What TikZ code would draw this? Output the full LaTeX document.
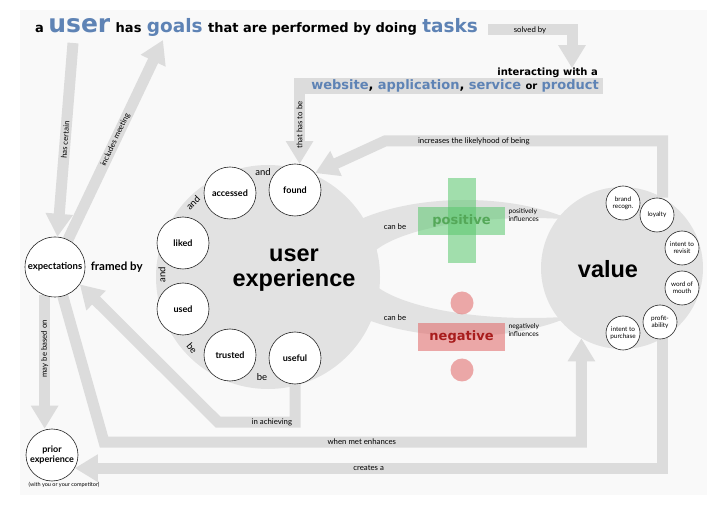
\documentclass[tikz,border=0pt]{standalone}
\usepackage{fontspec}
\setmainfont{Lato}
\newfontfamily\headfont{DejaVu Sans}
\newfontfamily\bigfont{Liberation Sans}
\usepackage{xcolor}
\usetikzlibrary{
    arrows.meta,
    positioning,
    calc
}
\definecolor{flowgray}{RGB}{220,220,220}
\definecolor{bubblegray}{RGB}{226,226,226}
\definecolor{paper}{RGB}{249,249,249}
\definecolor{wordblue}{RGB}{94,131,181}
\definecolor{posgreen}{RGB}{90,200,110}
\definecolor{posdark}{RGB}{84,168,88}
\definecolor{negred}{RGB}{225,100,100}
\definecolor{negdark}{RGB}{168,28,28}
\pgfdeclarelayer{back}
\pgfdeclarelayer{flows}
\pgfsetlayers{back,flows,main}

\begin{document}
\begin{tikzpicture}[x=1pt, y=-1pt,
        flow/.style={draw=flowgray, line width=11pt, -{Triangle[width=26pt,length=23pt]}},
        tag/.style={font=\fontsize{7.8}{8}\selectfont},
        circ/.style={font=\fontsize{9.5}{10}\selectfont},
        aspect/.style={circle, draw=black!85, line width=.6pt, fill=white, minimum size=52pt, inner sep=0pt, align=center, font=\bfseries\fontsize{9}{10}\selectfont},
        facet/.style={circle, draw=black!85, line width=.6pt, fill=white, minimum size=34pt, inner sep=0pt, align=center, font=\fontsize{6.4}{7.2}\selectfont},
        head/.style={inner sep=0pt, anchor=base west, font=\headfont\bfseries\fontsize{13}{15}\selectfont},
        big/.style={inner sep=0pt, anchor=base west, text=wordblue, font=\headfont\bfseries\fontsize{18.5}{20}\selectfont}
    ]
                \useasboundingbox (0,0) rectangle (720,518);
                \begin{pgfonlayer}{back}
                    \fill[paper] (20,10) rectangle (707,495);
                    \begin{scope}
                        \clip (465,268) ellipse [x radius=150, y radius=68];
                        \fill[bubblegray, even odd rule] (465,268) ellipse [x radius=150, y radius=68]
                            (530,268) ellipse [x radius=165, y radius=50];
                    \end{scope}
                    \node[circle, fill=bubblegray, minimum size=224pt] (ux) at (268,277) {};
                    \node[circle, fill=bubblegray, minimum size=162pt] (value) at (622,268) {};
                \end{pgfonlayer}

                \node[head] (ta) at (35,33) {a};
                \node[big, font=\headfont\bfseries\fontsize{25}{27}\selectfont, base right=4pt of ta] (tuser) {user};
                \node[head, base right=5pt of tuser] (thas) {has};
                \node[big, base right=5pt of thas] (tgoals) {goals};
                \node[head, base right=5pt of tgoals] (tthat) {that are performed by doing};
                \node[big, base right=5pt of tthat] (ttasks) {tasks};
                \node[head, font=\headfont\bfseries\fontsize{10}{12}\selectfont, anchor=base east] (interact) at (598,76) {interacting with a};
                \node[fill=flowgray, minimum width=309pt, minimum height=16pt, inner sep=0pt, text width=301pt, align=right, anchor=east,
                      font=\headfont\bfseries\fontsize{13}{15}\selectfont] (prodband) at (603,86)
                      {\textcolor{wordblue}{website}, \textcolor{wordblue}{application}, \textcolor{wordblue}{service} {\fontsize{10}{12}\selectfont or} \textcolor{wordblue}{product}};

                \node[font=\bigfont\bfseries\fontsize{23.5}{25}\selectfont, align=center] (uxtext) at (294,270) {user\\experience};
                \node[font=\bigfont\bfseries\fontsize{23.5}{25}\selectfont] (valuetext) at (608,269) {value};

                \node[aspect, minimum size=60pt, font=\bfseries\fontsize{9.5}{10}\selectfont] (expect) at (55,267) {expectations};
                \node[aspect] (prior) at (52,455) {prior\\experience};
                \node[font=\fontsize{5.5}{6}\selectfont] (withyou) at (64,485) {(with you or your competitor)};
                \node[font=\bfseries\fontsize{11.5}{13}\selectfont, right=2pt of expect] (framed) {framed by};

                \foreach \nm/\x/\y in {accessed/230/193, found/295/190, liked/183/243, used/183/309, trusted/230/355, useful/295/358}
                    \node[aspect] (\nm) at (\x,\y) {\nm};
                \node[circ] (and1) at (263,172) {and};
                \node[circ, rotate=45] (and2) at (193,203) {and};
                \node[circ, rotate=90] (and3) at (162,275) {and};
                \node[circ, rotate=-50] (be1) at (192,348) {be};
                \node[circ] (be2) at (262,377) {be};

                \foreach \nm/\x/\y/\txt in {brand/623/203/{brand\\recogn.}, loyalty/657/215/loyalty, revisit/682/248/{intent to\\revisit},
                                            mouth/682/288/{word of\\mouth}, profit/660/322/{profit-\\ability}, purchase/623/333/{intent to\\purchase}}
                    \node[facet] (\nm) at (\x,\y) {\txt};

                \fill[posgreen, opacity=.55] (448,178) rectangle (476,263);
                \node[fill=posgreen, fill opacity=.55, text opacity=1, text=posdark, minimum width=87pt, minimum height=28pt,
                      font=\headfont\bfseries\fontsize{13}{15}\selectfont] (pos) at (461.5,221) {positive};
                \fill[negred, opacity=.55] (462,303) circle (11.5) (462,370) circle (11.5);
                \node[fill=negred, fill opacity=.55, text opacity=1, text=negdark, minimum width=87pt, minimum height=28pt,
                      font=\headfont\bfseries\fontsize{13}{15}\selectfont] (neg) at (461.5,337) {negative};
                \node[tag] (canpos) at (395,227) {can be};
                \node[tag] (canneg) at (395,318) {can be};
                \node[font=\fontsize{6.8}{8}\selectfont, align=left, anchor=west] (posinf) at (505,215) {positively\\influences};
                \node[font=\fontsize{6.8}{8}\selectfont, align=left, anchor=west] (neginf) at (505,330) {negatively\\influences};

                \coordinate (hascert) at (73,43);
                \coordinate (goalfoot) at (163,40);
                \coordinate (solv1) at (488,30);
                \coordinate (solv2) at (572,30);
                \coordinate (incbend) at (385,141);
                \coordinate (metbend) at (104,442);
                \coordinate (achbend) at (218,422);

                \begin{pgfonlayer}{flows}
                    \draw[flow] (solv1) -- (solv2) node[tag, midway] {solved by} -- (solv2 |- interact.north);
                    \draw[flow] (prodband.west -| found.80) -- (found.80) node[tag, midway, rotate=90] {that has to be};
                    \draw[flow] (value.60) -- (value.60 |- incbend) -- (incbend) node[tag, pos=.68] {increases the likelyhood of being} -- (found.40);
                    \draw[flow] (hascert) -- (expect) node[tag, midway, sloped] {has certain};
                    \draw[flow] (expect) -- (goalfoot) node[tag, midway, sloped] {includes meeting};
                    \draw[flow] (expect.250) -- (expect.250 |- prior.north) node[tag, pos=.4, rotate=90] {may be based on};
                    \draw[flow] (expect.285) -- (metbend) -- (metbend -| value.240) node[tag, pos=.54] {when met enhances} -- (value.240);
                    \draw[flow] (value.300) -- (value.300 |- prior.-30) -- (prior.-30) node[tag, midway] {creates a};
                    \draw[flow] (useful.south) -- (useful.south |- achbend) -- (achbend) node[tag, pos=.3] {in achieving} -- (expect.-35);
                \end{pgfonlayer}

            \end{tikzpicture}
\end{document}
